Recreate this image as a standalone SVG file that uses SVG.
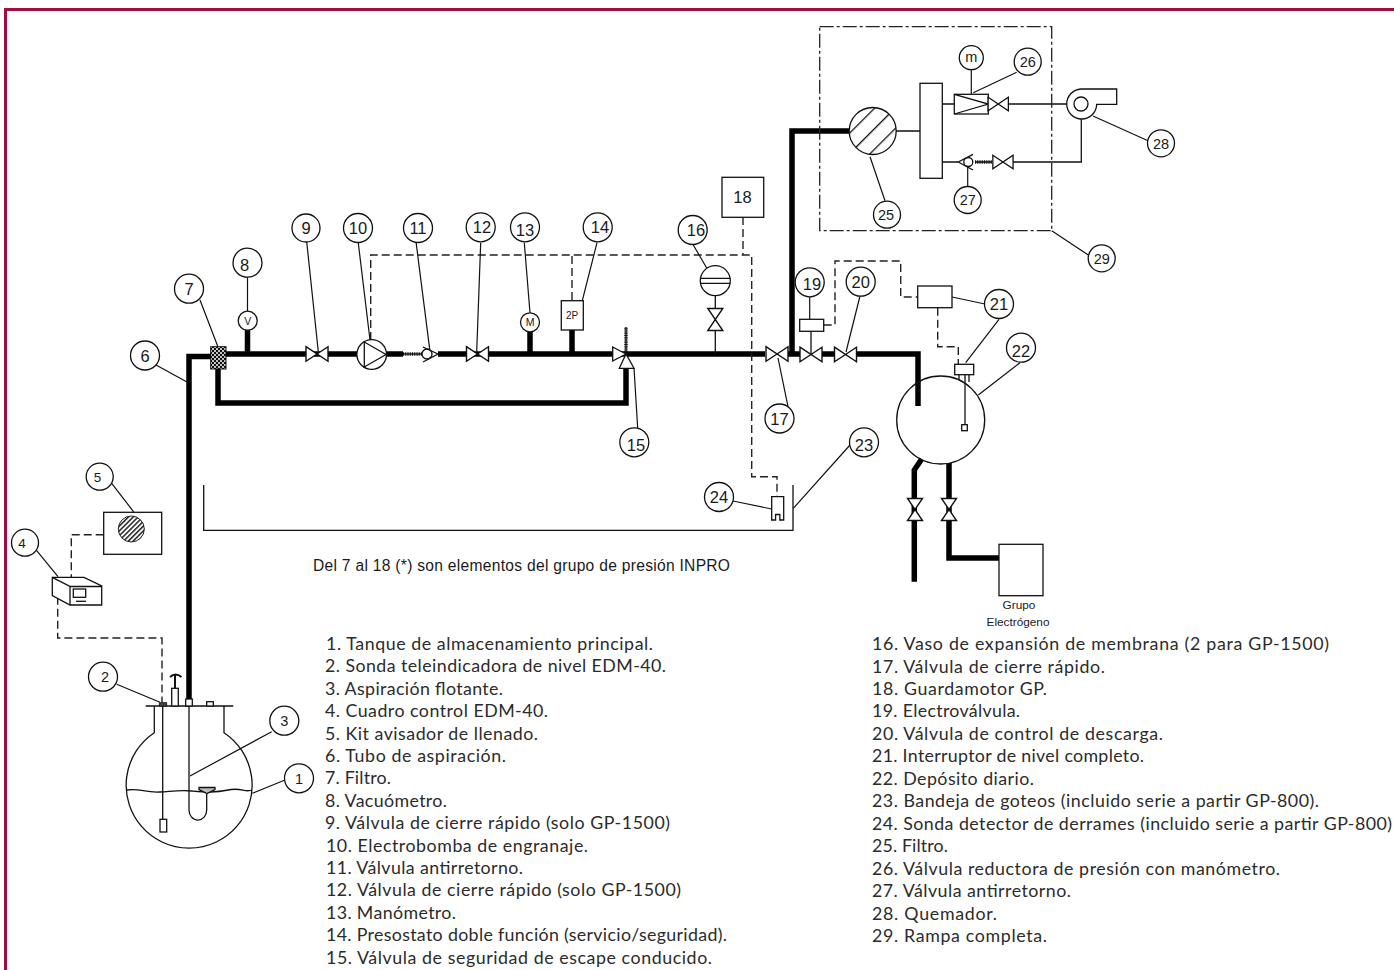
<svg xmlns="http://www.w3.org/2000/svg" width="1394" height="970" viewBox="0 0 1394 970">
<style>
text{font-family:"Liberation Sans",Arial,sans-serif;fill:#1a1a1a}
.s{fill:#fff;stroke:#111;stroke-width:1.3}
.n{fill:none;stroke:#111;stroke-width:1.3}
.lead{fill:none;stroke:#111;stroke-width:1.2}
.pipe{fill:none;stroke:#000;stroke-width:5.5;stroke-linejoin:miter}
.dash{fill:none;stroke:#222;stroke-width:1.4;stroke-dasharray:8 4}
.dd{fill:none;stroke:#222;stroke-width:1.3;stroke-dasharray:14 3 3 3}
.spring{fill:none;stroke:#111;stroke-width:3.5;stroke-dasharray:1 .8}
.l{font-size:16.5px;text-anchor:middle}
.m{font-size:14.5px;text-anchor:middle}
.leg text{font-family:Lato,"Open Sans",sans-serif;font-size:17.8px;fill:#2b2b2b}
</style>
<defs>
<path id="vh" d="M-11 -7.3L11 7.3V-7.3L-11 7.3Z" fill="#fff" stroke="#111" stroke-width="1.4"/>
<path id="vv" d="M-7.5 -11H7.5L-7.5 11H7.5Z" fill="#fff" stroke="#111" stroke-width="1.4"/>
<pattern id="mesh" width="4" height="4" patternUnits="userSpaceOnUse"><rect width="4" height="4" fill="#111"/><circle cx="1" cy="1" r="1" fill="#fff"/><circle cx="3" cy="3" r="1" fill="#fff"/></pattern>
<pattern id="h12" width="14.5" height="14.5" patternUnits="userSpaceOnUse" patternTransform="rotate(-45 872 131)"><rect width="14.5" height="14.5" fill="#fff"/><rect width="14.5" height="1.3" fill="#111"/></pattern>
<pattern id="h4" width="3.4" height="3.4" patternUnits="userSpaceOnUse" patternTransform="rotate(-45)"><rect width="3.4" height="3.4" fill="#fff"/><rect width="3.4" height="1.5" fill="#222"/></pattern>
</defs>
<rect width="1394" height="970" fill="#fff"/>
<g id="frame"><rect x="4" y="8" width="1390" height="3" fill="#a20c3f"/><rect x="4" y="8" width="3" height="962" fill="#a20c3f"/></g>

<g id="connectors">
<path class="pipe" d="M189 699V356.500H212"/>
<path class="pipe" d="M218 368V403H626V368"/>
<path class="pipe" d="M226 354H403M438 354H765M788 354H800M822 354H834M856 354H918V406"/>
<path class="pipe" d="M247.500 330V354M530 332V354M572 330V354"/>
<path class="pipe" d="M792 354V131H850"/>
<path class="pipe" d="M921.700 459L914.300 470V581.700M949 463V558H999"/>
<path class="n" d="M403 354H423"/>
<path class="spring" d="M403 354H423"/>
<path class="n" d="M626 354V327"/>
<path class="spring" d="M626 354V327"/>
<path class="n" d="M715.300 295V354M811 331V354"/>
<path class="dash" d="M370.700 340V255H751.700V476.700H777V496"/>
<path class="dash" d="M572 300V255M743 217V255"/>
<path class="dash" d="M823.700 325H835V261H900.700V297H917.700"/>
<path class="dash" d="M937.700 307.700V346.700H958.300V364"/>
<path class="dash" d="M103.700 534.700H71.300V577"/>
<path class="dash" d="M57.700 596.700V638H162V702.700"/>
<path class="n" d="M896 131H920M942 104H954M1008 104H1067M1081.300 119V162H1013M992 162H975M958 162H942"/>
<path class="spring" d="M975 162H992"/>
<g class="lead">
<path d="M156 365L187 382M200 300L218 347M247.500 277V311M306.700 241.700L318.300 351.700M358.300 243L370 340M416 241.700L430 351.700"/>
<path d="M480.700 242.700L476.700 351.700M524.300 242.700L530 313M597 242.700L582.300 300.700M634 368L637.700 428M693.300 245L706.700 268"/>
<path d="M778 358L788 406.700M809.700 297V319M860 296L846 352M952 297L985 304M999 319.300L965.700 362.700M1020 362.700L978.300 395"/>
<path d="M850 445L793.300 508.300M733 501L771.700 509M870 156.700L885 200.700M971.300 70V94M1016.700 72.300L973.300 92.700M967.700 166V186.500M1093 116L1148 140.700M1051.700 230.700L1088.300 255"/>
<path d="M111.700 483.300L134 512.300M36.700 550.700L58 576.700M116.700 684.300L160 702.300M271.700 731.700L190 776M285 780L252.300 793.300"/>
</g>
</g>

<g id="tank-1">
<path class="n" d="M145.700 706H233.300M154.300 706V732.700A63 63 0 1 0 224 732.700V706"/>
<path class="n" d="M127 790C140 788 145 793 160 792S180 790 192 791 215 793 228 790 245 793 252 790"/>
<path class="n" d="M162.700 706V819.300"/><rect class="s" x="160" y="819.300" width="6.700" height="12.700"/>
<rect x="159.300" y="702.700" width="7.400" height="3.300" fill="#444" stroke="#111" stroke-width=".8"/>
<rect class="s" x="171.700" y="688.300" width="6.600" height="17.700"/><path class="n" d="M175 688V675M170 677Q175.500 672 181.500 677" style="stroke-width:2"/>
<rect class="s" x="185.700" y="699" width="6.600" height="7"/><rect class="s" x="206.700" y="701.700" width="6.600" height="4.300"/>
<path class="n" d="M189 706V810A8.800 10 0 0 0 206.700 810V793"/>
<path class="s" d="M199 787.500H215V789.500L207 793.500L199 789.500Z" style="fill:#bbb"/>
</g>
<g id="box-4"><path class="s" d="M52.300 577.300H84L101.700 586V605H70L52.300 595.700Z"/><path class="n" d="M52.300 577.300L70 586.500V605M70 586.500H101.700"/><rect class="n" x="73.300" y="589" width="12.400" height="8.300"/><path class="n" d="M76 601.300H86"/></g>
<g id="box-5"><rect class="s" x="103.700" y="512.300" width="58" height="42"/><circle cx="131.300" cy="529" r="13" fill="url(#h4)" stroke="#222"/></g>
<g id="filter-7"><rect x="210.700" y="346.700" width="15.300" height="22.300" fill="url(#mesh)" stroke="#111"/></g>
<g id="gauge-8"><circle class="s" cx="247.700" cy="320.700" r="9.500"/><text class="m" x="247.700" y="324.500" style="font-size:10.500px">V</text></g>
<g id="valve-9"><use href="#vh" x="317" y="354"/></g>
<g id="pump-10"><circle class="s" cx="371.700" cy="354.500" r="14.800"/><path class="n" d="M364.300 342V367L386 354.500Z"/></g>
<g id="check-11"><circle class="s" cx="427" cy="354" r="5"/><path class="n" d="M423 347L438 354L423 362"/></g>
<g id="valve-12"><use href="#vh" x="477.500" y="354"/></g>
<g id="gauge-13"><circle class="s" cx="530" cy="322.300" r="9.500"/><text class="m" x="530" y="326.200" style="font-size:10.500px">M</text></g>
<g id="switch-14"><rect class="s" x="561.300" y="300.700" width="22" height="29.300"/><text class="m" x="572" y="319" style="font-size:10px">2P</text></g>
<g id="valve-15"><path class="s" d="M612.700 347V361L626 354ZM626 354L619.300 368.300H634Z"/></g>
<g id="vessel-16"><circle class="s" cx="715.300" cy="280.700" r="15"/><path class="n" d="M700.500 278.300H730M700.500 283.300H730"/><use href="#vv" x="715.300" y="319.500"/></g>
<g id="valve-17"><use href="#vh" x="777" y="354"/></g>
<g id="box-18"><rect class="s" x="722" y="177.300" width="41.700" height="40"/><text class="l" x="742.500" y="203">18</text></g>
<g id="valve-19"><rect class="s" x="799.700" y="319.300" width="24" height="12"/><use href="#vh" x="811" y="354.500"/></g>
<g id="valve-20"><use href="#vh" x="845.500" y="354.500"/></g>
<g id="switch-21"><rect class="s" x="917.700" y="286" width="34.300" height="21.700"/></g>
<g id="tank-22"><path class="n" d="M959 374.700V380M969 374.700V382"/><circle class="n" cx="940.700" cy="420" r="44"/><path class="n" d="M965 374.700V424.700"/><rect class="s" x="954.700" y="364.300" width="19" height="10.400"/><rect class="s" x="961.700" y="424.700" width="5.600" height="6"/></g>
<g id="valves-out"><use href="#vv" x="915" y="509.500"/><use href="#vv" x="949" y="509.500"/></g>
<g id="generator"><rect class="s" x="999" y="544.300" width="44" height="51.400"/><text x="1019" y="609" text-anchor="middle" font-size="11.800">Grupo</text><text x="1018" y="626" text-anchor="middle" font-size="11.800">Electrógeno</text></g>
<g id="tray-23"><path class="n" d="M203.700 485V530.300H793V485"/></g>
<g id="sensor-24"><path class="s" d="M771.700 496.700H783.700V520H779.800V514.500H775.600V520H771.700Z"/></g>
<g id="ramp-29"><rect class="dd" x="819.700" y="26.700" width="232" height="204"/></g>
<g id="filter-25"><circle cx="872.700" cy="131" r="23.500" fill="url(#h12)" stroke="#111" stroke-width="1.3"/></g>
<g id="manifold"><rect class="s" x="920" y="83.300" width="22.300" height="95"/></g>
<g id="valve-26"><rect class="s" x="954.300" y="94.300" width="34" height="19.700"/><path class="n" d="M954.300 94.300L988.300 104L954.300 114"/><use href="#vh" x="998.200" y="104" transform="matrix(.92 0 0 .92 79.900 8.300)"/></g>
<g id="check-27"><circle class="s" cx="968.300" cy="162" r="4.500"/><path class="n" d="M973 154.300L958.300 162L973 170"/><use href="#vh" x="1003" y="162" transform="matrix(.92 0 0 .92 80.200 13)"/></g>
<g id="burner-28"><path class="s" d="M1081 89H1116.700V104.300H1096.700A15 15 0 1 1 1081 89Z"/><circle class="s" cx="1081" cy="104" r="7"/></g>

<g id="labels">
<g id="l1"><circle class="s" cx="299" cy="778.300" r="14.500"/><text class="m" x="299" y="783.500">1</text></g>
<g id="l2"><circle class="s" cx="103" cy="676.700" r="14.500"/><text class="m" x="105" y="682">2</text></g>
<g id="l3"><circle class="s" cx="284.300" cy="720.700" r="14.500"/><text class="m" x="284.300" y="726">3</text></g>
<g id="l4"><circle class="s" cx="25" cy="542.700" r="13.500"/><text class="m" x="22" y="548" style="font-size:13.500px">4</text></g>
<g id="l5"><circle class="s" cx="99.700" cy="476.700" r="13.500"/><text class="m" x="97.500" y="482" style="font-size:13.500px">5</text></g>
<g id="l6"><circle class="s" cx="145" cy="355.500" r="14.500"/><text class="l" x="145" y="361.500">6</text></g>
<g id="l7"><circle class="s" cx="189" cy="288.700" r="14.500"/><text class="l" x="189" y="294.700">7</text></g>
<g id="l8"><circle class="s" cx="247.500" cy="262.700" r="14.500"/><text class="l" x="244.500" y="271">8</text></g>
<g id="l9"><circle class="s" cx="306" cy="228" r="14"/><text class="l" x="306" y="234">9</text></g>
<g id="l10"><circle class="s" cx="358" cy="228" r="14.500"/><text class="l" x="358" y="234">10</text></g>
<g id="l11"><circle class="s" cx="418" cy="228" r="14.500"/><text class="l" x="418" y="234">11</text></g>
<g id="l12"><circle class="s" cx="480.700" cy="227.300" r="14.500"/><text class="l" x="482" y="233.300">12</text></g>
<g id="l13"><circle class="s" cx="525" cy="227.300" r="14.500"/><text class="l" x="525" y="236">13</text></g>
<g id="l14"><circle class="s" cx="597.700" cy="227.300" r="14.500"/><text class="l" x="600" y="233.300">14</text></g>
<g id="l15"><circle class="s" cx="634.300" cy="442.300" r="14.500"/><text class="l" x="636" y="451">15</text></g>
<g id="l16"><circle class="s" cx="692.700" cy="230" r="14.500"/><text class="l" x="696" y="236">16</text></g>
<g id="l17"><circle class="s" cx="779.500" cy="418.500" r="14.500"/><text class="l" x="779.500" y="424.500">17</text></g>
<g id="l19"><circle class="s" cx="809.700" cy="282.300" r="14.500"/><text class="l" x="812" y="290">19</text></g>
<g id="l20"><circle class="s" cx="860.700" cy="281.700" r="14.500"/><text class="l" x="860.700" y="287.700">20</text></g>
<g id="l21"><circle class="s" cx="999" cy="304" r="14.500"/><text class="l" x="999" y="310">21</text></g>
<g id="l22"><circle class="s" cx="1021" cy="347.700" r="14.500"/><text class="l" x="1021" y="357">22</text></g>
<g id="l23"><circle class="s" cx="864" cy="442.300" r="14.500"/><text class="l" x="864" y="451">23</text></g>
<g id="l24"><circle class="s" cx="719" cy="497" r="14.500"/><text class="l" x="719" y="503">24</text></g>
<g id="l25"><circle class="s" cx="887" cy="214.700" r="13.500"/><text class="m" x="886" y="220">25</text></g>
<g id="lm"><circle class="s" cx="971.300" cy="57.700" r="12"/><text class="m" x="971.300" y="62">m</text></g>
<g id="l26"><circle class="s" cx="1027.700" cy="61.700" r="13.500"/><text class="m" x="1027.700" y="67">26</text></g>
<g id="l27"><circle class="s" cx="967.700" cy="200" r="13.500"/><text class="m" x="967.700" y="205">27</text></g>
<g id="l28"><circle class="s" cx="1161" cy="143.300" r="13.500"/><text class="m" x="1161" y="148.500">28</text></g>
<g id="l29"><circle class="s" cx="1101.700" cy="258.300" r="13.500"/><text class="m" x="1101.700" y="263.500">29</text></g>
</g>

<text x="313" y="571" font-size="15.600" textLength="417" lengthAdjust="spacing">Del 7 al 18 (*) son elementos del grupo de presión INPRO</text>

<g id="legend-left" class="leg">
<text x="326" y="650" textLength="327" lengthAdjust="spacing">1. Tanque de almacenamiento principal.</text>
<text x="325" y="672.400" textLength="341" lengthAdjust="spacing">2. Sonda teleindicadora de nivel EDM-40.</text>
<text x="325" y="694.800" textLength="178" lengthAdjust="spacing">3. Aspiración flotante.</text>
<text x="325" y="717.200" textLength="223" lengthAdjust="spacing">4. Cuadro control EDM-40.</text>
<text x="325" y="739.600" textLength="213" lengthAdjust="spacing">5. Kit avisador de llenado.</text>
<text x="325" y="762" textLength="181" lengthAdjust="spacing">6. Tubo de aspiración.</text>
<text x="325" y="784.400" textLength="66" lengthAdjust="spacing">7. Filtro.</text>
<text x="325" y="806.800" textLength="122" lengthAdjust="spacing">8. Vacuómetro.</text>
<text x="325" y="829.200" textLength="345" lengthAdjust="spacing">9. Válvula de cierre rápido (solo GP-1500)</text>
<text x="326" y="851.600" textLength="262" lengthAdjust="spacing">10. Electrobomba de engranaje.</text>
<text x="326" y="874" textLength="197" lengthAdjust="spacing">11. Válvula antirretorno.</text>
<text x="326" y="896.400" textLength="355" lengthAdjust="spacing">12. Válvula de cierre rápido (solo GP-1500)</text>
<text x="326" y="918.800" textLength="130" lengthAdjust="spacing">13. Manómetro.</text>
<text x="326" y="941.200" textLength="401" lengthAdjust="spacing">14. Presostato doble función (servicio/seguridad).</text>
<text x="326" y="963.600" textLength="386" lengthAdjust="spacing">15. Válvula de seguridad de escape conducido.</text>
</g>
<g id="legend-right" class="leg">
<text x="872" y="650" textLength="457" lengthAdjust="spacing">16. Vaso de expansión de membrana (2 para GP-1500)</text>
<text x="872" y="672.500" textLength="233" lengthAdjust="spacing">17. Válvula de cierre rápido.</text>
<text x="872" y="694.900" textLength="175" lengthAdjust="spacing">18. Guardamotor GP.</text>
<text x="872" y="717.400" textLength="148" lengthAdjust="spacing">19. Electroválvula.</text>
<text x="872" y="739.800" textLength="291" lengthAdjust="spacing">20. Válvula de control de descarga.</text>
<text x="872" y="762.300" textLength="272" lengthAdjust="spacing">21. Interruptor de nivel completo.</text>
<text x="872" y="784.800" textLength="162" lengthAdjust="spacing">22. Depósito diario.</text>
<text x="872" y="807.200" textLength="447" lengthAdjust="spacing">23. Bandeja de goteos (incluido serie a partir GP-800).</text>
<text x="872" y="829.700" textLength="520" lengthAdjust="spacing">24. Sonda detector de derrames (incluido serie a partir GP-800)</text>
<text x="872" y="852.100" textLength="76" lengthAdjust="spacing">25. Filtro.</text>
<text x="872" y="874.600" textLength="408" lengthAdjust="spacing">26. Válvula reductora de presión con manómetro.</text>
<text x="872" y="897.100" textLength="199" lengthAdjust="spacing">27. Válvula antirretorno.</text>
<text x="872" y="919.500" textLength="125" lengthAdjust="spacing">28. Quemador.</text>
<text x="872" y="942" textLength="175" lengthAdjust="spacing">29. Rampa completa.</text>
</g>
</svg>
